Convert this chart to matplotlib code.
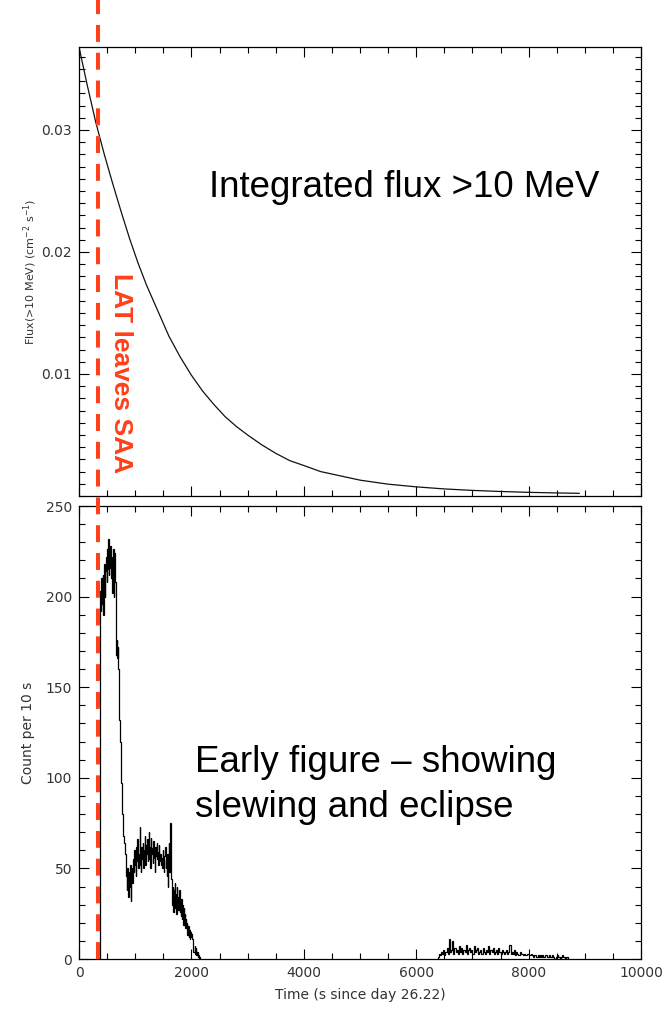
import numpy as np
import matplotlib
matplotlib.use('Agg')
import matplotlib.pyplot as plt
from matplotlib.lines import Line2D
from matplotlib.ticker import MultipleLocator, FixedLocator
from matplotlib.transforms import blended_transform_factory

# integrated flux > 10 MeV
flux_time = [0, 150, 300, 450, 600, 750, 900, 1050, 1200, 1400, 1600, 1800,
             2000, 2200, 2400, 2600, 2800, 3000, 3250, 3500, 3750, 4000, 4300,
             4600, 5000, 5500, 6000, 6500, 7000, 7500, 8000, 8500, 8900]
flux_value = [0.0368, 0.0336, 0.0306, 0.0280, 0.0256, 0.0233, 0.0211, 0.0191,
              0.0173, 0.0152, 0.0131, 0.0114, 0.0099, 0.0086, 0.0075, 0.0065,
              0.0057, 0.0050, 0.0042, 0.0035, 0.0029, 0.0025, 0.0020, 0.0017,
              0.0013, 0.00097, 0.00075, 0.00058, 0.00046, 0.00037, 0.00030,
              0.00025, 0.00022]

# counts per 10 s, first pass (starts at t=370 s)
early_start = 370
early_width = 10
early_counts = [
    188, 203, 192, 210, 196, 212, 190, 205, 218, 200, 214, 222, 208, 226,
    215, 232, 212, 224, 216, 228, 210, 222, 202, 218, 226, 200, 224, 208,
    178, 168, 176, 166, 172, 160, 150, 132, 120, 108, 97, 88, 80, 75, 68,
    64, 62, 58, 55,
    46, 38, 50, 42, 34, 48, 40, 52, 32, 45, 50,
    42, 55, 48, 60, 52, 58, 46, 62, 54, 66, 50, 58, 52, 73, 56, 48, 62, 55,
    64, 50, 60, 57, 68, 52, 63, 58, 66, 54, 60, 70, 55, 62, 50, 67, 58, 61,
    53, 65, 56, 60, 48, 62, 57, 64, 55, 59, 52, 63, 57, 54,
    58, 52, 56, 50, 60, 54, 48, 57, 62, 50, 55, 46, 58, 40, 52, 64, 48, 75,
    50, 44,
    42, 30, 40, 26, 38, 42, 28, 36, 25, 40, 30, 34, 27, 38, 26, 32, 24, 33,
    22, 30, 19, 28, 20, 25, 17, 22, 18, 20, 13, 18, 12, 16, 11, 15, 12, 14,
    11, 4, 4, 4, 4, 7, 3, 6, 2, 4, 1, 2, 0, 1,
]

# after the eclipse (starts at t=6380 s)
late_start = 6380
late_width = 20
late_counts = [
    1, 3, 2, 4, 3, 5, 2, 4, 6, 3,
    11, 4, 5, 10, 3, 6, 4, 5, 3, 7,
    4, 6, 3, 5, 4, 8, 3, 5, 6, 4,
    5, 3, 7, 4, 5, 6, 3, 4, 5, 3,
    6, 4, 3, 5, 4, 7, 3, 5, 4, 6,
    3, 4, 5, 3, 6, 4, 3, 5, 4, 3,
    4, 5, 3, 4, 8, 3, 4, 3, 5, 2,
    4, 3, 2, 4, 3, 3, 2, 3, 2, 2,
    3, 2, 2, 3, 2, 1, 2, 2, 1, 2,
    1, 2, 1, 2, 1, 1, 2, 1, 1, 2,
    1, 1, 2, 1, 0, 1, 2, 1, 1, 0,
    1, 2, 1, 0, 1, 1,
]

saa_exit_time = 340
red = '#FF4019'
tick_col = '#333333'

fig = plt.figure(figsize=(6.69, 10.13), dpi=100)
ax1 = fig.add_axes([79/669, 1 - 496/1013, 562/669, 449/1013])
ax2 = fig.add_axes([79/669, 1 - 959/1013, 562/669, 453/1013])

# top panel
ax1.plot(flux_time, flux_value, color='#111111', lw=0.9)
ax1.set_xlim(0, 10000)
ax1.set_ylim(0, 0.0368)
ax1.yaxis.set_major_locator(FixedLocator([0.01, 0.02, 0.03]))
ax1.yaxis.set_minor_locator(MultipleLocator(0.001))
ax1.set_yticklabels(['0.01', '0.02', '0.03'])
ax1.xaxis.set_major_locator(MultipleLocator(2000))
ax1.xaxis.set_minor_locator(MultipleLocator(500))
ax1.tick_params(labelbottom=False)
ax1.set_ylabel('Flux(>10 MeV) (cm$^{-2}$ s$^{-1}$)', fontsize=8, color=tick_col,
               labelpad=2)
ax1.text(2313, 0.0253, 'Integrated flux >10 MeV', fontsize=26.5,
         family='Liberation Sans', va='center', ha='left')

# bottom panel
e1 = early_start + early_width * np.arange(len(early_counts) + 1)
e2 = late_start + late_width * np.arange(len(late_counts) + 1)
ax2.stairs(early_counts, e1, color='black', lw=0.9, baseline=0)
ax2.stairs(late_counts, e2, color='black', lw=0.9, baseline=0)
ax2.set_xlim(0, 10000)
ax2.set_ylim(0, 250)
ax2.xaxis.set_major_locator(MultipleLocator(2000))
ax2.xaxis.set_minor_locator(MultipleLocator(500))
ax2.yaxis.set_major_locator(MultipleLocator(50))
ax2.yaxis.set_minor_locator(MultipleLocator(10))
ax2.set_xlabel('Time (s since day 26.22)', fontsize=10, color=tick_col, labelpad=6)
ax2.set_ylabel('Count per 10 s', fontsize=10, color=tick_col, labelpad=8)
ax2.text(2064, 96, 'Early figure \u2013 showing\nslewing and eclipse', fontsize=26.5,
         family='Liberation Sans', va='center', ha='left', linespacing=1.35)

for ax in (ax1, ax2):
    ax.tick_params(which='both', direction='in', top=True, right=True,
                   colors='black', labelcolor=tick_col, labelsize=10, width=0.8)
    ax.tick_params(which='major', length=7, pad=5)
    ax.tick_params(which='minor', length=4)
    for s in ax.spines.values():
        s.set_linewidth(0.9)

# LAT leaves SAA marker, runs over both panels
tr = blended_transform_factory(ax2.transData, fig.transFigure)
fig.add_artist(Line2D([saa_exit_time, saa_exit_time], [1 - 959/1013, 1.0],
                      transform=tr, color=red, lw=2.9, dashes=(4.2, 2.7),
                      clip_on=False))
ax1.text(750, 0.0101, 'LAT leaves SAA', rotation=-90, color=red, fontsize=19,
         fontweight='bold', family='Liberation Sans', ha='center', va='center')

fig.savefig('out.png', dpi=100)
